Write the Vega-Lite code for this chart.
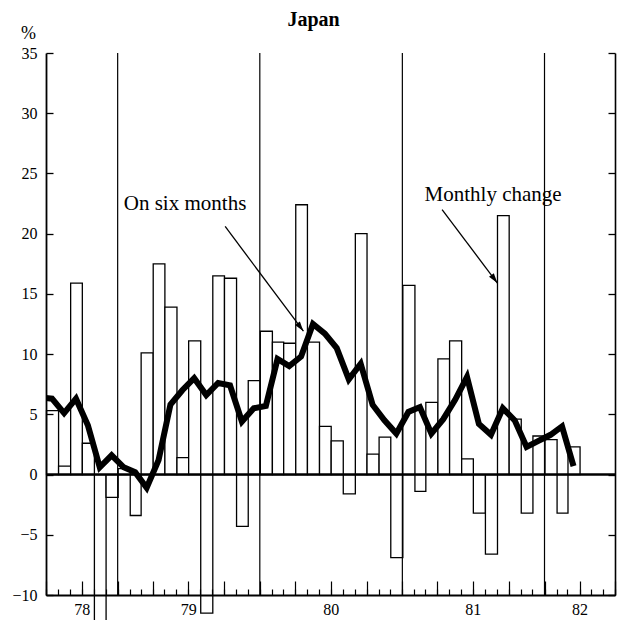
{
  "$schema": "https://vega.github.io/schema/vega-lite/v6.json",
  "width": 569,
  "height": 542,
  "autosize": {"type": "none"},
  "padding": {"left": 46, "top": 53, "right": 5, "bottom": 25},
  "background": "white",
  "config": {"view": {"stroke": null}, "font": "Liberation Serif"},
  "title": {"text": "Japan", "font": "Liberation Serif", "fontSize": 20, "fontWeight": "bold", "color": "black", "anchor": "middle", "frame": "group", "dx": -17, "baseline": "alphabetic", "offset": -22},
  "datasets": {
    "monthly": [
      {"date": "1978-06-01", "six_months": 6.4},
      {"date": "1978-07-01", "monthly_change": 5.3, "six_months": 6.3},
      {"date": "1978-08-01", "monthly_change": 0.7, "six_months": 5.1},
      {"date": "1978-09-01", "monthly_change": 15.9, "six_months": 6.3},
      {"date": "1978-10-01", "monthly_change": 2.6, "six_months": 4.1},
      {"date": "1978-11-01", "monthly_change": -13.0, "six_months": 0.6},
      {"date": "1978-12-01", "monthly_change": -1.9, "six_months": 1.6},
      {"date": "1979-01-01", "monthly_change": 0.5, "six_months": 0.6},
      {"date": "1979-02-01", "monthly_change": -3.4, "six_months": 0.2},
      {"date": "1979-03-01", "monthly_change": 10.1, "six_months": -1.1},
      {"date": "1979-04-01", "monthly_change": 17.5, "six_months": 1.2},
      {"date": "1979-05-01", "monthly_change": 13.9, "six_months": 5.8},
      {"date": "1979-06-01", "monthly_change": 1.4, "six_months": 7.0},
      {"date": "1979-07-01", "monthly_change": 11.1, "six_months": 8.0},
      {"date": "1979-08-01", "monthly_change": -11.5, "six_months": 6.6},
      {"date": "1979-09-01", "monthly_change": 16.5, "six_months": 7.6},
      {"date": "1979-10-01", "monthly_change": 16.3, "six_months": 7.4},
      {"date": "1979-11-01", "monthly_change": -4.3, "six_months": 4.4},
      {"date": "1979-12-01", "monthly_change": 7.8, "six_months": 5.5},
      {"date": "1980-01-01", "monthly_change": 11.9, "six_months": 5.7},
      {"date": "1980-02-01", "monthly_change": 11.0, "six_months": 9.6},
      {"date": "1980-03-01", "monthly_change": 10.9, "six_months": 9.0},
      {"date": "1980-04-01", "monthly_change": 22.4, "six_months": 9.8},
      {"date": "1980-05-01", "monthly_change": 11.0, "six_months": 12.5},
      {"date": "1980-06-01", "monthly_change": 4.0, "six_months": 11.7},
      {"date": "1980-07-01", "monthly_change": 2.8, "six_months": 10.5},
      {"date": "1980-08-01", "monthly_change": -1.6, "six_months": 7.9},
      {"date": "1980-09-01", "monthly_change": 20.0, "six_months": 9.2},
      {"date": "1980-10-01", "monthly_change": 1.7, "six_months": 5.8},
      {"date": "1980-11-01", "monthly_change": 3.1, "six_months": 4.5},
      {"date": "1980-12-01", "monthly_change": -6.9, "six_months": 3.4},
      {"date": "1981-01-01", "monthly_change": 15.7, "six_months": 5.2},
      {"date": "1981-02-01", "monthly_change": -1.4, "six_months": 5.6},
      {"date": "1981-03-01", "monthly_change": 6.0, "six_months": 3.4},
      {"date": "1981-04-01", "monthly_change": 9.6, "six_months": 4.6},
      {"date": "1981-05-01", "monthly_change": 11.1, "six_months": 6.2},
      {"date": "1981-06-01", "monthly_change": 1.3, "six_months": 8.1},
      {"date": "1981-07-01", "monthly_change": -3.2, "six_months": 4.2},
      {"date": "1981-08-01", "monthly_change": -6.6, "six_months": 3.3},
      {"date": "1981-09-01", "monthly_change": 21.5, "six_months": 5.5},
      {"date": "1981-10-01", "monthly_change": 4.6, "six_months": 4.5},
      {"date": "1981-11-01", "monthly_change": -3.2, "six_months": 2.3},
      {"date": "1981-12-01", "monthly_change": 3.2, "six_months": 2.8},
      {"date": "1982-01-01", "monthly_change": 2.9, "six_months": 3.3},
      {"date": "1982-02-01", "monthly_change": -3.2, "six_months": 4.0},
      {"date": "1982-03-01", "monthly_change": 2.3, "six_months": 0.7}
    ],
    "years": [
      {"year_start": "1979-01-01"},
      {"year_start": "1980-01-01"},
      {"year_start": "1981-01-01"},
      {"year_start": "1982-01-01"}
    ],
    "notes": [
      {"label": "On six months", "text_date": "1979-06-23", "text_value": 22.0, "from_date": "1979-10-04", "from_value": 20.6, "to_date": "1980-04-22", "to_value": 11.9},
      {"label": "Monthly change", "text_date": "1981-08-22", "text_value": 22.7, "from_date": "1981-04-13", "from_value": 22.0, "to_date": "1981-09-02", "to_value": 15.9}
    ]
  },
  "layer": [
    {
      "data": {"name": "monthly"},
      "mark": {"type": "bar", "fill": "white", "stroke": "black", "strokeWidth": 1.3, "binSpacing": 0},
      "encoding": {
        "x": {"field": "date", "timeUnit": "utcyearmonth", "type": "temporal",
          "scale": {"type": "utc", "domain": [{"year": 1978, "month": "jul", "date": 1, "utc": true}, {"year": 1982, "month": "jul", "date": 1, "utc": true}]},
          "axis": {"orient": "bottom", "tickCount": {"interval": "month", "step": 1}, "labels": false, "ticks": true, "tickSize": -6, "tickWidth": 1.2, "tickColor": "black", "domain": true, "domainColor": "black", "domainWidth": 2, "grid": false, "title": null, "zindex": 1}},
        "y": {"field": "monthly_change", "type": "quantitative",
          "scale": {"domain": [-10, 35], "nice": false, "zero": false},
          "axis": {"orient": "left", "values": [-10, -5, 0, 5, 10, 15, 20, 25, 30, 35], "tickSize": -7, "tickWidth": 1.3, "tickColor": "black", "domain": true, "domainColor": "black", "domainWidth": 1.8, "labelFont": "Liberation Serif", "labelFontSize": 16, "labelColor": "black", "labelPadding": 16, "labelFlush": false, "grid": false, "zindex": 1,
            "title": "%", "titleAngle": 0, "titleX": -18, "titleY": -15, "titleAlign": "center", "titleBaseline": "alphabetic", "titleFont": "Liberation Serif", "titleFontSize": 18, "titleFontWeight": "normal", "titleColor": "black"}}
      }
    },
    {
      "data": {"name": "years"},
      "mark": {"type": "rule", "color": "black", "strokeWidth": 1.2},
      "encoding": {
        "x": {"field": "year_start", "type": "temporal",
          "scale": {"type": "utc", "domain": [{"year": 1978, "month": "jul", "date": 1, "utc": true}, {"year": 1982, "month": "jul", "date": 1, "utc": true}]},
          "axis": null}
      }
    },
    {
      "data": {"values": [{}]},
      "mark": {"type": "rule", "color": "black", "strokeWidth": 2.6},
      "encoding": {
        "y": {"datum": 0, "type": "quantitative", "scale": {"domain": [-10, 35], "nice": false, "zero": false}, "axis": null}
      }
    },
    {
      "data": {"name": "monthly"},
      "mark": {"type": "line", "color": "black", "strokeWidth": 6, "clip": true},
      "encoding": {
        "x": {"field": "date", "timeUnit": "utcyearmonth", "type": "temporal", "bandPosition": 0.5,
          "scale": {"type": "utc", "domain": [{"year": 1978, "month": "jul", "date": 1, "utc": true}, {"year": 1982, "month": "jul", "date": 1, "utc": true}]},
          "axis": {"orient": "bottom", "tickCount": {"interval": "month", "step": 3}, "ticks": true, "tickSize": -14, "tickWidth": 1.2, "tickColor": "black", "domain": false, "grid": false, "title": null, "zindex": 1,
            "labelExpr": "(utcyear(datum.value) == 1978 && utcmonth(datum.value) == 9) || (utcyear(datum.value) >= 1979 && utcyear(datum.value) <= 1981 && utcmonth(datum.value) == 6) || (utcyear(datum.value) == 1982 && utcmonth(datum.value) == 3) ? utcFormat(datum.value, '%y') : ''",
            "labelFont": "Liberation Serif", "labelFontSize": 16, "labelColor": "black", "labelPadding": 20, "labelOverlap": false, "labelFlush": false}},
        "y": {"field": "six_months", "type": "quantitative",
          "scale": {"domain": [-10, 35], "nice": false, "zero": false},
          "axis": {"orient": "right", "values": [-10, -5, 0, 5, 10, 15, 20, 25, 30, 35], "tickSize": -7, "tickWidth": 1.3, "tickColor": "black", "labels": false, "domain": true, "domainColor": "black", "domainWidth": 1.6, "grid": false, "title": null, "zindex": 1}}
      }
    },
    {
      "data": {"name": "notes"},
      "mark": {"type": "rule", "color": "black", "strokeWidth": 1.3},
      "encoding": {
        "x": {"field": "from_date", "type": "temporal", "scale": {"type": "utc", "domain": [{"year": 1978, "month": "jul", "date": 1, "utc": true}, {"year": 1982, "month": "jul", "date": 1, "utc": true}]}, "axis": null},
        "x2": {"field": "to_date"},
        "y": {"field": "from_value", "type": "quantitative", "scale": {"domain": [-10, 35], "nice": false, "zero": false}, "axis": null},
        "y2": {"field": "to_value"}
      }
    },
    {
      "data": {"name": "notes"},
      "mark": {"type": "point", "shape": "M0,0L0.6,2L-0.6,2Z", "filled": true, "color": "black", "opacity": 1, "size": 100, "angle": 143.4, "strokeWidth": 0},
      "encoding": {
        "x": {"field": "to_date", "type": "temporal", "scale": {"type": "utc", "domain": [{"year": 1978, "month": "jul", "date": 1, "utc": true}, {"year": 1982, "month": "jul", "date": 1, "utc": true}]}, "axis": null},
        "y": {"field": "to_value", "type": "quantitative", "scale": {"domain": [-10, 35], "nice": false, "zero": false}, "axis": null}
      }
    },
    {
      "data": {"name": "notes"},
      "mark": {"type": "text", "font": "Liberation Serif", "fontSize": 21, "color": "black", "align": "center", "baseline": "alphabetic"},
      "encoding": {
        "x": {"field": "text_date", "type": "temporal", "scale": {"type": "utc", "domain": [{"year": 1978, "month": "jul", "date": 1, "utc": true}, {"year": 1982, "month": "jul", "date": 1, "utc": true}]}, "axis": null},
        "y": {"field": "text_value", "type": "quantitative", "scale": {"domain": [-10, 35], "nice": false, "zero": false}, "axis": null},
        "text": {"field": "label"}
      }
    }
  ],
  "resolve": {"axis": {"x": "independent", "y": "independent"}}
}
